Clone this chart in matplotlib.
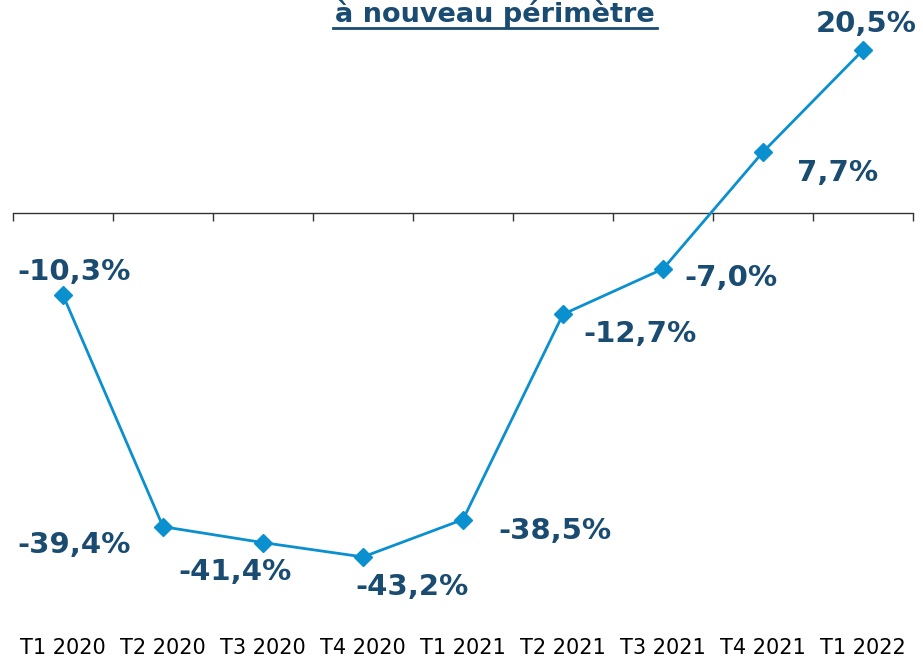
import matplotlib.pyplot as plt

# data
quarters = ["T1 2020", "T2 2020", "T3 2020", "T4 2020", "T1 2021",
            "T2 2021", "T3 2021", "T4 2021", "T1 2022"]
values = [-10.3, -39.4, -41.4, -43.2, -38.5, -12.7, -7.0, 7.7, 20.5]
labels = ["-10,3%", "-39,4%", "-41,4%", "-43,2%", "-38,5%",
          "-12,7%", "-7,0%", "7,7%", "20,5%"]
# label offsets from the point (pixels, y up)
offsets = [(11, 23), (-89, -18), (-28, -29), (49, -30), (92, -11),
           (77, -20), (68, -9), (75, -21), (3, 26)]

line_col = "#0A8FCF"
text_col = "#1A4C72"
px = 0.72  # points per pixel at dpi 100

fig = plt.figure(figsize=(9.23, 6.58), dpi=100)
ax = fig.add_axes([13 / 923, 1 - 615 / 658, 900 / 923, 615 / 658])

ax.plot(range(len(values)), values, color=line_col, lw=2,
        marker="D", markersize=9.5, zorder=3)

ax.set_xlim(-0.5, len(values) - 0.5)
ax.set_ylim(-50.5, 26.8)

for sp in ["top", "right", "left"]:
    ax.spines[sp].set_visible(False)
ax.spines["bottom"].set_position(("data", 0))
ax.spines["bottom"].set_color("#333333")
ax.spines["bottom"].set_linewidth(1)
ax.set_yticks([])
ax.set_xticks([i - 0.5 for i in range(len(values) + 1)])
ax.tick_params(axis="x", direction="out", length=6, width=1,
               color="#333333", labelbottom=False)

# category labels at the bottom
for i, q in enumerate(quarters):
    ax.text(i, -43 / 615, q, transform=ax.get_xaxis_transform(),
            ha="center", va="bottom", fontsize=15, color="black")

# value labels
for i, (v, lab, (dx, dy)) in enumerate(zip(values, labels, offsets)):
    ax.annotate(lab, (i, v), xytext=(dx * px, dy * px),
                textcoords="offset points", ha="center", va="center",
                fontsize=21, fontweight="bold", color=text_col)

# title (second line of the original title)
fig.text(495 / 923, 1 - 22 / 658, "à nouveau périmètre", ha="center",
         va="baseline", fontsize=19.5, fontweight="bold", color=text_col)
fig.add_artist(plt.Line2D([333 / 923, 657 / 923], [1 - 28 / 658, 1 - 28 / 658],
                          color=text_col, lw=2))

fig.savefig("out.png", dpi=100)
